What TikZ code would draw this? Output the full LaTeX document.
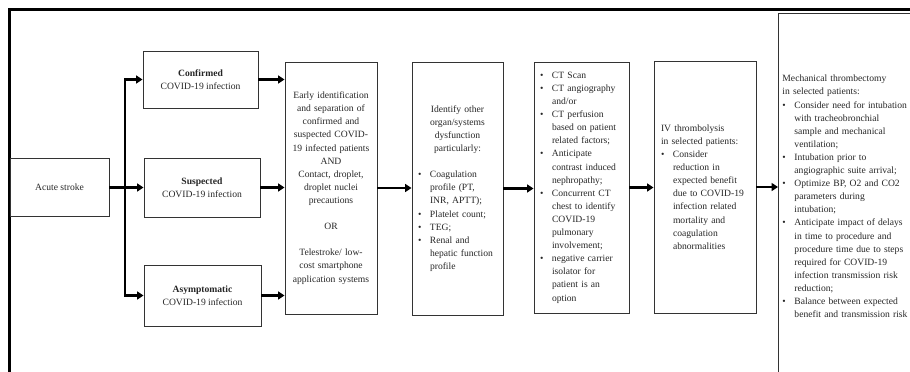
\documentclass[tikz,border=0pt]{standalone}
\usepackage{fontspec}
\setmainfont{Liberation Serif}
\usetikzlibrary{arrows.meta}
\newcommand\bul{\makebox[12pt][l]{\textbullet}}
\newcommand\hng{\hspace*{12pt}}

\begin{document}
\begin{tikzpicture}[x=1pt,y=-1pt,>={Triangle[length=6.5pt,width=8pt]},
  box/.style={draw=black!80,line width=.9pt,inner sep=0pt,text=black!85,
    font=\fontsize{9.6}{13.1}\selectfont},
  arr/.style={line width=2.4pt,->}]
  \useasboundingbox (0,0) rectangle (910,372);
  \clip (0,0) rectangle (910,372);
  \draw[line width=2.6pt] (9.5,400) |- (940,9.5);

  \node[box,minimum width=99pt,minimum height=58pt] (stroke) at (59.5,187.5) {Acute stroke};
  \node[box,align=center,minimum width=115pt,minimum height=57pt] (conf) at (200.5,79.5)
    {\textbf{Confirmed}\\COVID-19 infection};
  \node[box,align=center,minimum width=116pt,minimum height=59pt] (susp) at (202,187.5)
    {\textbf{Suspected}\\COVID-19 infection};
  \node[box,align=center,minimum width=117pt,minimum height=61pt] (asym) at (202.5,295.5)
    {\textbf{Asymptomatic}\\COVID-19 infection};

  \node[box,text width=86pt,align=center,minimum width=92pt,minimum height=252pt] (early) at (331,188)
    {Early identification\\ and separation of\\ confirmed and\\ suspected COVID-\\
     19 infected patients\\ AND\\ Contact, droplet,\\ droplet nuclei\\ precautions\\[13.1pt]
     OR\\[13.1pt] Telestroke/ low-\\ cost smartphone\\ application systems};
  \node[box,text width=79pt,align=left,minimum width=91pt,minimum height=253pt] (ident) at (457.5,188.5)
    {{\centering Identify other\\ organ/systems\\ dysfunction\\ particularly:\par}\vspace{13.1pt}
     \noindent\bul Coagulation\\ \hng profile (PT,\\ \hng INR, APTT);\\ \bul Platelet count;\\
     \bul TEG;\\ \bul Renal and\\ \hng hepatic function\\ \hng profile};
  \node[box,text width=83pt,align=left,minimum width=95pt,minimum height=251pt] (ct) at (581.5,187.5)
    {\bul CT Scan\\ \bul CT angiography\\ \hng and/or\\ \bul CT perfusion\\ \hng based on patient\\
     \hng related factors;\\ \bul Anticipate\\ \hng contrast induced\\ \hng nephropathy;\\
     \bul Concurrent CT\\ \hng chest to identify\\ \hng COVID-19\\ \hng pulmonary\\
     \hng involvement;\\ \bul negative carrier\\ \hng isolator for\\ \hng patient is an\\ \hng option};
  \node[box,text width=88pt,align=left,minimum width=102pt,minimum height=252pt] (ivt) at (705,187)
    {IV thrombolysis\\ in selected patients:\\ \bul Consider\\ \hng reduction in\\
     \hng expected benefit\\ \hng due to COVID-19\\ \hng infection related\\ \hng mortality and\\
     \hng coagulation\\ \hng abnormalities};
  \node[box,anchor=north west,text width=142pt,align=left,minimum width=150pt,minimum height=366pt]
    (mech) at (778,13)
    {Mechanical thrombectomy\\ in selected patients:\\ \bul Consider need for intubation\\
     \hng with tracheobronchial\\ \hng sample and mechanical\\ \hng ventilation;\\
     \bul Intubation prior to\\ \hng angiographic suite arrival;\\ \bul Optimize BP, O2 and CO2\\
     \hng parameters during\\ \hng intubation;\\ \bul Anticipate impact of delays\\
     \hng in time to procedure and\\ \hng procedure time due to steps\\ \hng required for COVID-19\\
     \hng infection transmission risk\\ \hng reduction;\\ \bul Balance between expected\\
     \hng benefit and transmission risk};

  \coordinate (fork) at (125,187.5);
  \draw[arr] (stroke.east) -- (susp.west);
  \draw[arr,<->] (conf.west) -| (fork) |- (asym.west);
  \foreach \a/\b in {conf/early,susp/early,asym/early,early/ident,ident/ct,ct/ivt,ivt/mech}
    \draw[arr] (\a.east) -- (\a.east -| \b.west);
\end{tikzpicture}
\end{document}
